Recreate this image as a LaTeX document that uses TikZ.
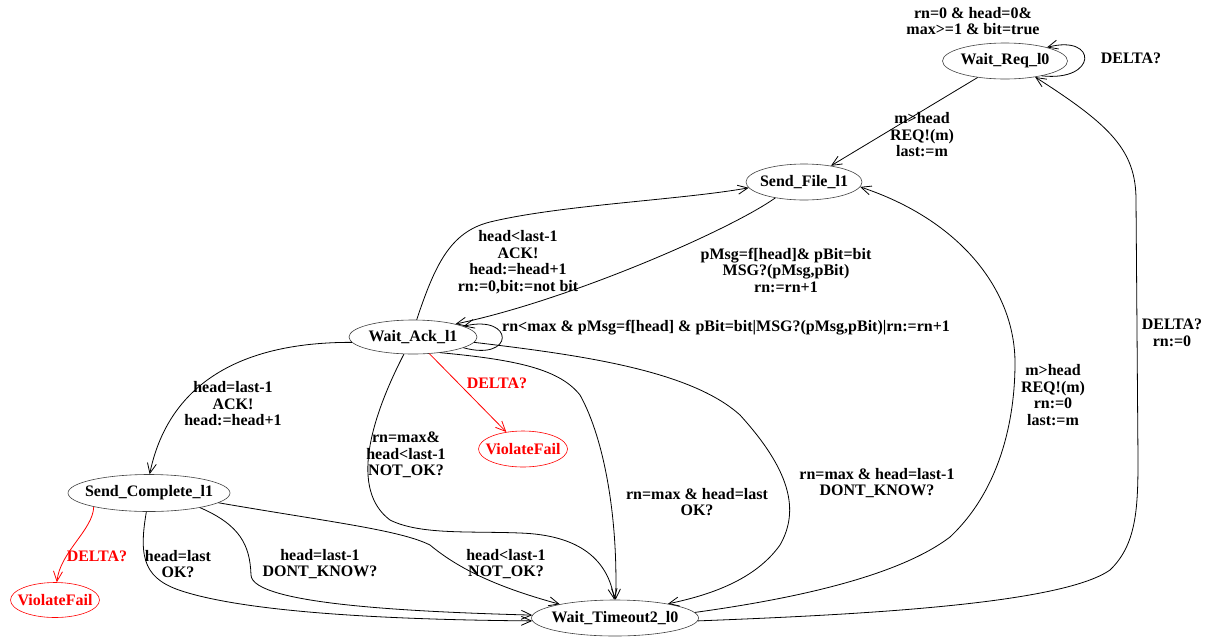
\documentclass[tikz,border=0pt]{standalone}
\usepackage{fontspec}
\setmainfont{Liberation Serif}
\usetikzlibrary{shapes.geometric,arrows.meta}
\newcommand{\zb}[1]{\makebox[0pt]{#1}}
\begin{document}
\begin{tikzpicture}[x=1pt,y=-1pt,
  every node/.style={font=\fontsize{16}{16.5}\selectfont\bfseries},
  stt/.style={ellipse,draw=black!75,line width=0.6pt,inner sep=0pt,minimum height=36pt},
  bad/.style={stt,draw=red,text=red},
  lbl/.style={align=center,inner sep=0pt},
  conn/.style={line width=0.8pt,-{Straight Barb[length=10pt,width=9pt]}},
  rconn/.style={conn,draw=red}
]
\useasboundingbox (0,0) rectangle (1207,638);

% states
\node[stt,minimum width=125pt] (wreq) at (1005,61) {\zb{Wait\_Req\_l0}};
\node[stt,minimum width=116pt] (sfile) at (804,182) {\zb{Send\_File\_l1}};
\node[stt,minimum width=128pt,minimum height=34pt] (wack) at (413,337) {\zb{Wait\_Ack\_l1}};
\node[stt,minimum width=162pt,minimum height=37pt] (scomp) at (149,493) {\zb{Send\_Complete\_l1}};
\node[bad,minimum width=89pt,minimum height=35pt] (vf1) at (55,600) {\zb{ViolateFail}};
\node[bad,minimum width=89pt] (vf2) at (523,449) {\zb{ViolateFail}};
\node[stt,minimum width=167pt] (wto) at (615,618) {\zb{Wait\_Timeout2\_l0}};

% top text
\node[lbl] (tinit) at (973,21) {rn=0 \& head=0\&\\max>=1 \& bit=true};

% Wait_Req -> Send_File
\draw[conn] (wreq) -- (sfile);
\node[lbl] (t1) at (922,135) {m>head\\REQ!(m)\\last:=m};

% Wait_Req loop
\draw[conn] (wreq.-22) .. controls (1098,82) and (1098,34) .. (wreq.18);
\node[lbl] (t2) at (1131,58) {DELTA?};

% Send_File -> Wait_Ack
\draw[conn] (sfile.209) .. controls (730,230) and (570,300) .. (wack.17);
\node[lbl] (t3) at (786,270) {pMsg=f[head]\& pBit=bit\\MSG?(pMsg,pBit)\\rn:=rn+1};

% Wait_Ack -> Send_File
\draw[conn] (wack.78) .. controls (435,265) and (450,232) .. (490,222)
  .. controls (560,205) and (680,200) .. (sfile.186);
\node[lbl] (t4) at (518,262) {head<last-1\\ACK!\\head:=head+1\\rn:=0,bit:=not bit};

% Wait_Ack loop
\draw[conn] (wack.-12) .. controls (515,362) and (515,314) .. (wack.12);
\node[lbl,anchor=west] (t5) at (502,328) {rn<max \& pMsg=f[head] \& pBit=bit|MSG?(pMsg,pBit)|rn:=rn+1};

% Wait_Ack -> Send_Complete
\draw[conn] (wack.185) .. controls (220,342) and (165,400) .. (scomp.88);
\node[lbl] (t6) at (233,404) {head=last-1\\ACK!\\head:=head+1};

% Wait_Ack -> ViolateFail
\draw[rconn] (wack) -- (vf2);
\node[lbl,text=red] (t7) at (497,383) {DELTA?};

% Wait_Ack -> Wait_Timeout (NOT_OK)
\draw[conn] (wack.242) .. controls (370,420) and (350,490) .. (390,520)
  .. controls (420,535) and (470,531) .. (520,533)
  .. controls (580,535) and (608,560) .. (wto.92);
\node[lbl] (t8) at (406,455) {rn=max\&\\head<last-1\\NOT\_OK?};

% Wait_Ack -> Wait_Timeout (OK)
\draw[conn] (wack.-30) .. controls (520,360) and (560,370) .. (580,395)
  .. controls (605,440) and (618,520) .. (wto.88);
\node[lbl] (t9) at (697,502) {rn=max \& head=last\\OK?};

% Wait_Ack -> Wait_Timeout (DONT_KNOW)
\draw[conn] (wack.-5) .. controls (580,355) and (690,370) .. (740,415)
  .. controls (790,470) and (800,510) .. (780,545)
  .. controls (755,580) and (710,595) .. (wto.15);
\node[lbl] (t10) at (877,483) {rn=max \& head=last-1\\DONT\_KNOW?};

% Send_Complete -> Wait_Timeout (OK)
\draw[conn] (scomp.262) .. controls (138,560) and (145,580) .. (185,592)
  .. controls (260,615) and (420,620) .. (wto.182);
\node[lbl] (t11) at (178,564) {head=last\\OK?};

% Send_Complete -> Wait_Timeout (DONT_KNOW)
\draw[conn] (scomp.-16) .. controls (240,525) and (250,545) .. (251,575)
  .. controls (252,605) and (420,612) .. (wto.178);
\node[lbl] (t12) at (320,564) {head=last-1\\DONT\_KNOW?};

% Send_Complete -> Wait_Timeout (NOT_OK)
\draw[conn] (scomp.-8) .. controls (330,522) and (400,530) .. (430,545)
  .. controls (460,570) and (500,588) .. (wto.166);
\node[lbl] (t13) at (506,564) {head<last-1\\NOT\_OK?};

% Send_Complete -> ViolateFail
\draw[rconn] (scomp.194) .. controls (93,530) and (60,552) .. (vf1.84);
\node[lbl,text=red] (t14) at (97,556) {DELTA?};

% Wait_Timeout -> Send_File
\draw[conn] (wto.4) .. controls (800,598) and (900,575) .. (950,537)
  .. controls (1000,490) and (1015,420) .. (1015,363)
  .. controls (1015,290) and (960,220) .. (sfile.-5);
\node[lbl] (t15) at (1053,395) {m>head\\REQ!(m)\\rn:=0\\last:=m};

% Wait_Timeout -> Wait_Req
\draw[conn] (wto.-2) .. controls (850,615) and (1060,605) .. (1110,570)
  .. controls (1136,545) and (1138,510) .. (1138,460)
  -- (1136,200) .. controls (1136,150) and (1110,125) .. (wreq.-28);
\node[lbl] (t16) at (1172,333) {DELTA?\\rn:=0};
\end{tikzpicture}
\end{document}
